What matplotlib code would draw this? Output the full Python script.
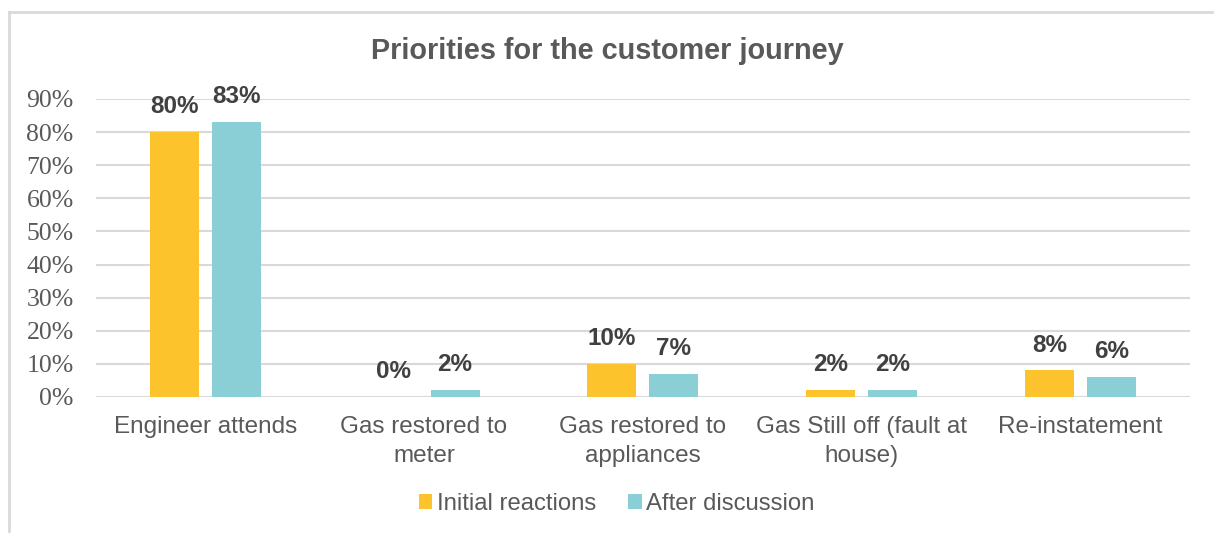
import numpy as np
import matplotlib.pyplot as plt
from matplotlib.lines import Line2D
from matplotlib.ticker import PercentFormatter

# survey shares per stage of the customer journey
categories = ['Engineer attends', 'Gas restored to\nmeter', 'Gas restored to\nappliances',
              'Gas Still off (fault at\nhouse)', 'Re-instatement']
initial_reactions = [80, 0, 10, 2, 8]
after_discussion = [83, 2, 7, 2, 6]
series_names = ['Initial reactions', 'After discussion']

colors = ['#FCC32D', '#8ACED6']
text_grey = '#595959'
label_grey = '#404040'

fig = plt.figure(figsize=(12.14, 5.33), dpi=100)
ax = fig.add_axes([0.079, 0.2552, 0.901, 0.5591])

x = np.arange(len(categories))
bar_width = 0.224
offset = 0.1417

bars1 = ax.bar(x - offset, initial_reactions, bar_width, color=colors[0], label=series_names[0], zorder=3)
bars2 = ax.bar(x + offset, after_discussion, bar_width, color=colors[1], label=series_names[1], zorder=3)

# value labels above each bar
for bars, vals in [(bars1, initial_reactions), (bars2, after_discussion)]:
    for b, v in zip(bars, vals):
        ax.annotate(str(v) + '%', (b.get_x() + b.get_width() / 2, v), xytext=(0, 10),
                    textcoords='offset points', ha='center', va='bottom',
                    fontsize=17.5, fontweight='bold', color=label_grey, family='Liberation Sans')

ax.set_xlim(-0.5, len(categories) - 0.5)
ax.set_ylim(0, 90)
ax.set_yticks(np.arange(0, 91, 10))
ax.yaxis.set_major_formatter(PercentFormatter(decimals=0))
ax.grid(axis='y', color='#D9D9D9', linewidth=1.5, zorder=0)
for s in ax.spines.values():
    s.set_visible(False)
ax.tick_params(axis='both', length=0)
ax.tick_params(axis='y', pad=16)
ax.tick_params(axis='x', pad=14)
ax.set_xticks(x)
ax.set_xticklabels(categories, fontsize=17.5, color=text_grey, family='Liberation Sans', linespacing=1.38)
for t in ax.get_yticklabels():
    t.set_fontsize(18.5)
    t.set_color(text_grey)
    t.set_family('Liberation Serif')

fig.text(0.5, 0.904, 'Priorities for the customer journey', ha='center', va='center',
         fontsize=20.8, fontweight='bold', color=text_grey, family='Liberation Sans')

fig.legend(handles=[bars1, bars2], loc='center', bbox_to_anchor=(0.5 + 10 / 1214, 1 - 504 / 533), ncol=2,
           frameon=False, prop={'family': 'Liberation Sans', 'size': 17.2}, labelcolor=text_grey,
           handlelength=0.55, handleheight=0.55, handletextpad=0.2, columnspacing=1.34)

# chart frame edges
fig.add_artist(Line2D([9 / 1214, 1], [1 - 12 / 533] * 2, color='#D9D9D9', linewidth=2, transform=fig.transFigure))
fig.add_artist(Line2D([9 / 1214] * 2, [0, 1 - 12 / 533], color='#D9D9D9', linewidth=2, transform=fig.transFigure))

fig.savefig('out.png', dpi=100)
